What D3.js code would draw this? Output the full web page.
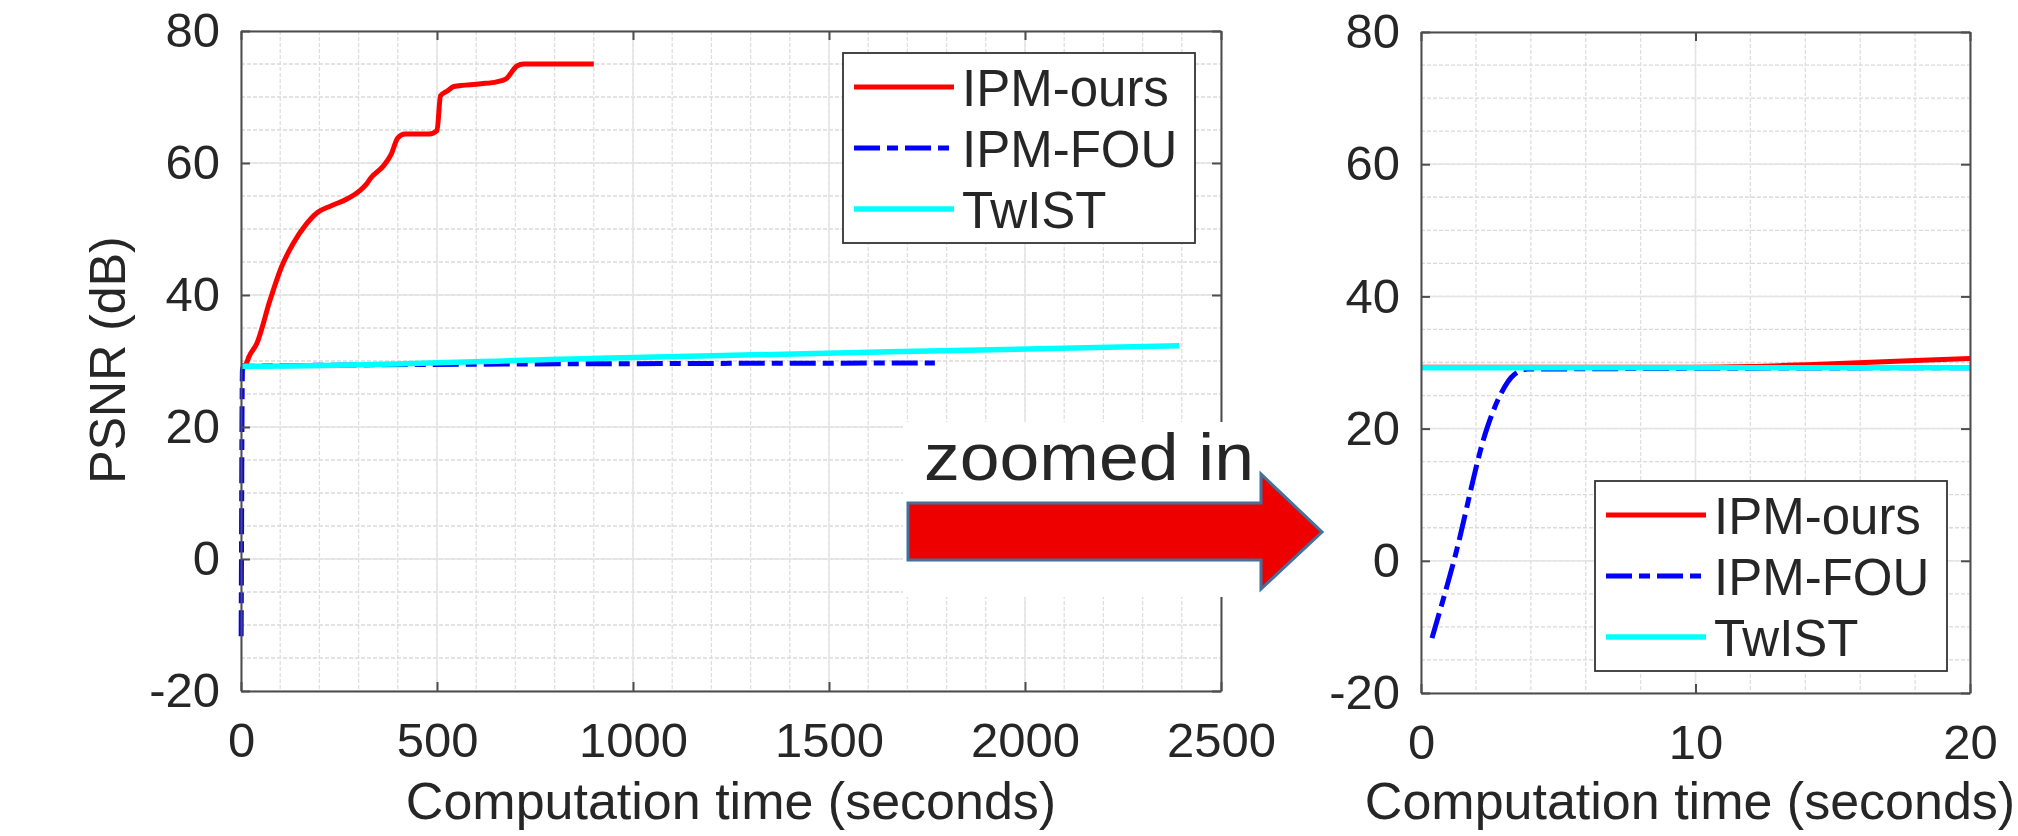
<!DOCTYPE html>
<html>
<head>
<meta charset="utf-8">
<script src="https://cdn.jsdelivr.net/npm/d3@7"></script>
<style>
body { margin: 0; background: #fff; }
svg text { font-family: "Liberation Sans", Arial, sans-serif; fill: #262626; }
</style>
</head>
<body>
<svg id="chart" width="2018" height="836"></svg>
<script>
// data (time in seconds, PSNR in dB)
const oursTime = [0, 5, 10, 12, 15, 18, 20, 40, 74, 103, 132, 166, 195, 229, 269, 303, 320, 332, 364, 383, 400, 418, 480, 500, 509, 526, 543, 612, 652, 675, 704, 721, 900];
const oursPsnr = [29.3, 29.3, 29.3, 29.4, 29.8, 30.3, 30.6, 32.6, 39.2, 44.2, 47.7, 50.7, 52.5, 53.5, 54.5, 55.8, 56.8, 57.8, 59.6, 61.3, 63.8, 64.4, 64.4, 64.9, 70.2, 70.9, 71.6, 72.0, 72.3, 72.7, 74.7, 75.0, 75.0];

const fouTime = [0.4, 1.2, 2.4, 2.9, 3.4, 3.9, 20, 300, 1000, 1770];
const fouPsnr = [-11.7, 0.0, 20.0, 25.2, 28.2, 29.0, 29.2, 29.4, 29.6, 29.7];

const twistTime = [0, 20, 916, 1656, 2393];
const twistPsnr = [29.2, 29.2, 30.4, 31.4, 32.3];

const seriesNames = ["IPM-ours", "IPM-FOU", "TwIST"];
const yTicks = [-20, 0, 20, 40, 60, 80];
const xTicksLeft = [0, 500, 1000, 1500, 2000, 2500];
const xTicksRight = [0, 10, 20];

const series = [
    { name: seriesNames[0], t: oursTime, v: oursPsnr, color: "#ff0000", width: 5, dash: null },
    { name: seriesNames[1], t: fouTime, v: fouPsnr, color: "#0000ff", width: 5, dash: "26,7,11,7" },
    { name: seriesNames[2], t: twistTime, v: twistPsnr, color: "#00ffff", width: 5.5, dash: null }
];

const svg = d3.select("#chart");
svg.append("rect").attr("width", 2018).attr("height", 836).attr("fill", "#fff");

const plain = d => String(d);

function drawPanel(id, opt) {
    const x = d3.scaleLinear().domain(opt.xDomain).range(opt.xRange);
    const y = d3.scaleLinear().domain([-20, 80]).range(opt.yRange);
    const g = svg.append("g");
    const [x0, x1] = opt.xRange, [y1, y0] = opt.yRange;

    g.append("rect").attr("x", x0).attr("y", y0).attr("width", x1 - x0).attr("height", y1 - y0).attr("fill", "#fff");

    // minor grid
    g.selectAll(".vminor").data(d3.range(opt.xDomain[0], opt.xDomain[1] + 0.001, opt.xMinor))
        .join("line")
        .attr("x1", d => x(d)).attr("x2", d => x(d)).attr("y1", y0).attr("y2", y1)
        .attr("stroke", "#dedede").attr("stroke-width", 1.3).attr("stroke-dasharray", "4,2");
    g.selectAll(".hminor").data(d3.range(-20, 80.001, 5))
        .join("line")
        .attr("x1", x0).attr("x2", x1).attr("y1", d => y(d)).attr("y2", d => y(d))
        .attr("stroke", "#dadada").attr("stroke-width", 1.3).attr("stroke-dasharray", "4,2");
    // major grid
    g.selectAll(".vmajor").data(opt.xTicks).join("line")
        .attr("x1", d => x(d)).attr("x2", d => x(d)).attr("y1", y0).attr("y2", y1)
        .attr("stroke", "#e4e4e4").attr("stroke-width", 1.5);
    g.selectAll(".hmajor").data(yTicks).join("line")
        .attr("x1", x0).attr("x2", x1).attr("y1", d => y(d)).attr("y2", d => y(d))
        .attr("stroke", "#e4e4e4").attr("stroke-width", 1.5);

    // lines
    svg.append("clipPath").attr("id", "clip" + id).append("rect")
        .attr("x", x0 - 3).attr("y", y0).attr("width", x1 - x0 + 3).attr("height", y1 - y0);
    const line = d3.line().x(d => x(d[0])).y(d => y(d[1])).curve(d3.curveMonotoneX);
    series.forEach(s => {
        g.append("path")
            .datum(d3.zip(s.t, s.v))
            .attr("clip-path", "url(#clip" + id + ")")
            .attr("d", line)
            .attr("fill", "none")
            .attr("stroke", s.color)
            .attr("stroke-width", s.width)
            .attr("stroke-dasharray", s.dash);
    });

    // axes (ticks inside, box on)
    g.append("g").attr("transform", `translate(0,${y1})`)
        .call(d3.axisBottom(x).tickValues(opt.xTicks).tickFormat(plain).tickSizeInner(-9).tickSizeOuter(0).tickPadding(31));
    g.append("g").attr("transform", `translate(${x0},0)`)
        .call(d3.axisLeft(y).tickValues(yTicks).tickFormat(plain).tickSizeInner(-9).tickSizeOuter(0).tickPadding(21));
    g.append("g").attr("transform", `translate(0,${y0})`)
        .call(d3.axisTop(x).tickValues(opt.xTicks).tickSizeInner(-9).tickSizeOuter(0).tickFormat(""));
    g.append("g").attr("transform", `translate(${x1},0)`)
        .call(d3.axisRight(y).tickValues(yTicks).tickSizeInner(-9).tickSizeOuter(0).tickFormat(""));
    g.selectAll("g").attr("font-family", null);
    g.selectAll(".domain").attr("stroke", "#4d4d4d").attr("stroke-width", 2);
    g.selectAll(".tick line").attr("stroke", "#4d4d4d").attr("stroke-width", 2);
    g.selectAll(".tick text").attr("font-size", 49).attr("fill", "#262626");

    // axis title
    g.append("text")
        .attr("x", opt.titleX).attr("y", 819)
        .attr("text-anchor", "middle").attr("font-size", 52)
        .text("Computation time (seconds)");

    return g;
}

function drawLegend(lx, ly) {
    const lg = svg.append("g").attr("transform", `translate(${lx},${ly})`);
    lg.append("rect").attr("width", 352).attr("height", 190)
        .attr("fill", "#fff").attr("stroke", "#333").attr("stroke-width", 1.8);
    series.forEach((s, i) => {
        const yy = 34 + i * 61;
        lg.append("line").attr("x1", 11).attr("x2", 111).attr("y1", yy).attr("y2", yy)
            .attr("stroke", s.color).attr("stroke-width", s.width).attr("stroke-dasharray", s.dash);
        lg.append("text").attr("x", 119).attr("y", yy + 19)
            .attr("font-size", 51).attr("fill", "#000").text(s.name);
    });
}

drawPanel("L", { xDomain: [0, 2500], xRange: [241, 1221], yRange: [691, 31], xTicks: xTicksLeft, xMinor: 100, titleX: 731 });
svg.append("text")
    .attr("transform", "translate(125,360) rotate(-90)")
    .attr("text-anchor", "middle").attr("font-size", 50)
    .text("PSNR (dB)");
drawLegend(843, 53);

drawPanel("R", { xDomain: [0, 20], xRange: [1421, 1970], yRange: [693, 32], xTicks: xTicksRight, xMinor: 2, titleX: 1690 });
drawLegend(1595, 481);

// "zoomed in" annotation
svg.append("rect").attr("x", 903).attr("y", 422).attr("width", 427).attr("height", 175).attr("fill", "#fff");
svg.append("text")
    .attr("x", 924).attr("y", 480)
    .attr("font-family", "Lato, 'Open Sans', sans-serif")
    .attr("font-size", 66)
    .attr("textLength", 330).attr("lengthAdjust", "spacingAndGlyphs")
    .attr("fill", "#000")
    .text("zoomed in");
svg.append("path")
    .attr("d", "M908,503 L1261,503 L1261,474 L1322,532 L1261,589 L1261,560 L908,560 Z")
    .attr("fill", "#ee0000").attr("stroke", "#41719c").attr("stroke-width", 3);
</script>
</body>
</html>
